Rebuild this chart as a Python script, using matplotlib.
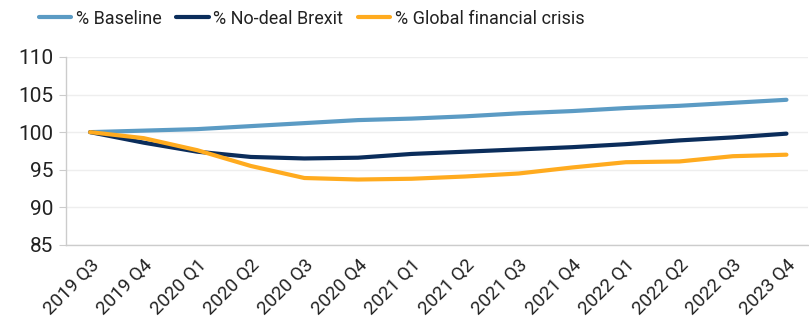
import matplotlib
matplotlib.use("Agg")
import matplotlib.pyplot as plt

quarters = ["2019 Q3", "2019 Q4", "2020 Q1", "2020 Q2", "2020 Q3", "2020 Q4",
            "2021 Q1", "2021 Q2", "2021 Q3", "2021 Q4", "2022 Q1", "2022 Q2",
            "2022 Q3", "2023 Q4"]
baseline = [100, 100.2, 100.4, 100.8, 101.2, 101.6, 101.8, 102.1, 102.5, 102.8,
            103.2, 103.5, 103.9, 104.3]
no_deal = [100, 98.6, 97.4, 96.7, 96.5, 96.6, 97.1, 97.4, 97.7, 98.0, 98.4,
           98.9, 99.3, 99.8]
gfc = [100, 99.2, 97.6, 95.5, 93.9, 93.7, 93.8, 94.1, 94.5, 95.3, 96.0, 96.1,
       96.8, 97.0]

BLUE = "#5b9bc4"; NAVY = "#0b2d5b"; ORANGE = "#ffab1f"
TXT = "#222222"
plt.rcParams.update({"font.family": ["Roboto", "DejaVu Sans"], "font.size": 13.5})

fig = plt.figure(figsize=(8.09, 3.31), dpi=100)
ax = fig.add_axes([0.0816, 0.26, 0.917, 0.568])
x = range(len(quarters))
ax.plot(x, baseline, color=BLUE, lw=3, solid_capstyle="round", label="% Baseline")
ax.plot(x, no_deal, color=NAVY, lw=3, solid_capstyle="round", label="% No-deal Brexit")
ax.plot(x, gfc, color=ORANGE, lw=3, solid_capstyle="round", label="% Global financial crisis")

ax.set_ylim(85, 110)
ax.set_yticks(range(85, 111, 5))
ax.set_xlim(-0.45, 13.4)
ax.set_xticks(list(x))
ax.set_xticklabels(quarters, rotation=45, ha="right", rotation_mode="anchor", color=TXT)
ax.tick_params(axis="x", length=0, pad=8)
ax.tick_params(axis="y", length=5, color="#cccccc", colors=TXT, pad=4, labelsize=15)
ax.grid(axis="y", color="#eeeeee", lw=1)
ax.set_axisbelow(True)
for s in ("top", "right"):
    ax.spines[s].set_visible(False)
for s in ("left", "bottom"):
    ax.spines[s].set_color("#cccccc")
    ax.spines[s].set_linewidth(1)

fig.legend(loc="upper left", bbox_to_anchor=(0.028, 1.02), ncol=3, frameon=False,
           handlelength=1.8, handletextpad=0.25, columnspacing=0.8, labelcolor=TXT,
           fontsize=13)
fig.savefig("out.png", dpi=100)
